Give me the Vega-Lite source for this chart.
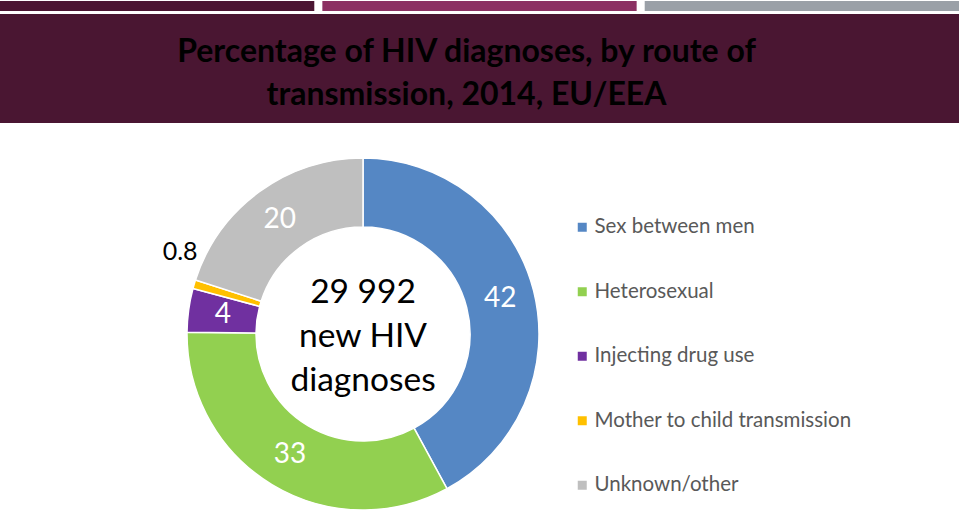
{
  "$schema": "https://vega.github.io/schema/vega-lite/v6.json",
  "padding": {"top": 1, "left": 0, "right": 0, "bottom": 0},
  "background": "white",
  "config": {"view": {"stroke": null}},
  "datasets": {
    "routes": [
      {"k": 1, "route": "Sex between men", "pct": 42},
      {"k": 2, "route": "Heterosexual", "pct": 33},
      {"k": 3, "route": "Injecting drug use", "pct": 4},
      {"k": 4, "route": "Mother to child transmission", "pct": 0.8},
      {"k": 5, "route": "Unknown/other", "pct": 20}
    ]
  },
  "spacing": 12,
  "resolve": {"scale": {"color": "independent"}, "legend": {"color": "independent"}},
  "vconcat": [
    {
      "spacing": 3,
      "bounds": "flush",
      "resolve": {"scale": {"color": "independent"}, "legend": {"color": "independent"}},
      "vconcat": [
        {
          "width": 959,
          "height": 10,
          "data": {"values": [{"s": "a"}, {"s": "b"}, {"s": "c"}]},
          "mark": {"type": "rect"},
          "encoding": {
            "x": {"field": "s", "type": "nominal", "axis": null, "scale": {"paddingInner": 0.025, "paddingOuter": 0}},
            "color": {"field": "s", "type": "nominal", "legend": null,
              "scale": {"domain": ["a", "b", "c"], "range": ["#4B1532", "#8C3163", "#9AA0A7"]}}
          }
        },
        {
          "width": 959,
          "height": 109,
          "data": {"values": [{"t": "Percentage of HIV diagnoses, by route of\ntransmission, 2014, EU/EEA"}]},
          "layer": [
            {"mark": {"type": "rect", "color": "#4A1632"}, "encoding": {}},
            {
              "mark": {"type": "text", "font": "Lato", "fontWeight": "bold", "fontSize": 32, "color": "#000000",
                "lineBreak": "\n", "lineHeight": 43, "align": "center", "baseline": "middle", "dx": -13, "dy": -17},
              "encoding": {"text": {"field": "t", "type": "nominal"}}
            }
          ]
        }
      ]
    },
    {
      "width": 726,
      "height": 358,
      "data": {"name": "routes"},
      "layer": [
        {
          "mark": {"type": "arc", "radius": 176, "innerRadius": 107, "stroke": "white", "strokeWidth": 1.5},
          "encoding": {
            "theta": {"field": "pct", "type": "quantitative", "stack": true},
            "order": {"field": "k", "type": "quantitative"},
            "color": {"field": "route", "type": "nominal",
              "scale": {"domain": ["Sex between men", "Heterosexual", "Injecting drug use", "Mother to child transmission", "Unknown/other"],
                "range": ["#5587C4", "#92D050", "#7030A0", "#FFC000", "#BFBFBF"]},
              "legend": {"title": null, "orient": "none", "legendX": 572, "legendY": 62, "symbolType": "square",
                "symbolSize": 81, "symbolStrokeWidth": 0, "labelFont": "Lato", "labelFontSize": 20.5,
                "labelColor": "#595959", "rowPadding": 43.5, "labelOffset": 2, "padding": 0, "labelLimit": 400}
            }
          }
        },
        {
          "mark": {"type": "text", "radius": 141.5, "font": "Lato", "fontSize": 28, "color": "white", "align": "center", "baseline": "middle"},
          "encoding": {
            "theta": {"field": "pct", "type": "quantitative", "stack": true},
            "order": {"field": "k", "type": "quantitative"},
            "text": {"condition": {"test": "datum.k == 4", "value": ""}, "field": "pct", "type": "nominal"}
          }
        },
        {
          "mark": {"type": "text", "radius": 200, "font": "Lato", "fontSize": 25, "color": "black", "align": "center", "baseline": "middle", "dx": 9, "dy": -25},
          "encoding": {
            "theta": {"field": "pct", "type": "quantitative", "stack": true},
            "order": {"field": "k", "type": "quantitative"},
            "text": {"condition": {"test": "datum.k != 4", "value": ""}, "field": "pct", "type": "nominal"}
          }
        },
        {
          "data": {"values": [{"c": "29 992\nnew HIV\ndiagnoses"}]},
          "mark": {"type": "text", "font": "Lato", "fontSize": 33.5, "color": "black", "lineBreak": "\n", "lineHeight": 44, "align": "center", "baseline": "middle", "dy": -41},
          "encoding": {"text": {"field": "c", "type": "nominal"}}
        }
      ]
    }
  ]
}
